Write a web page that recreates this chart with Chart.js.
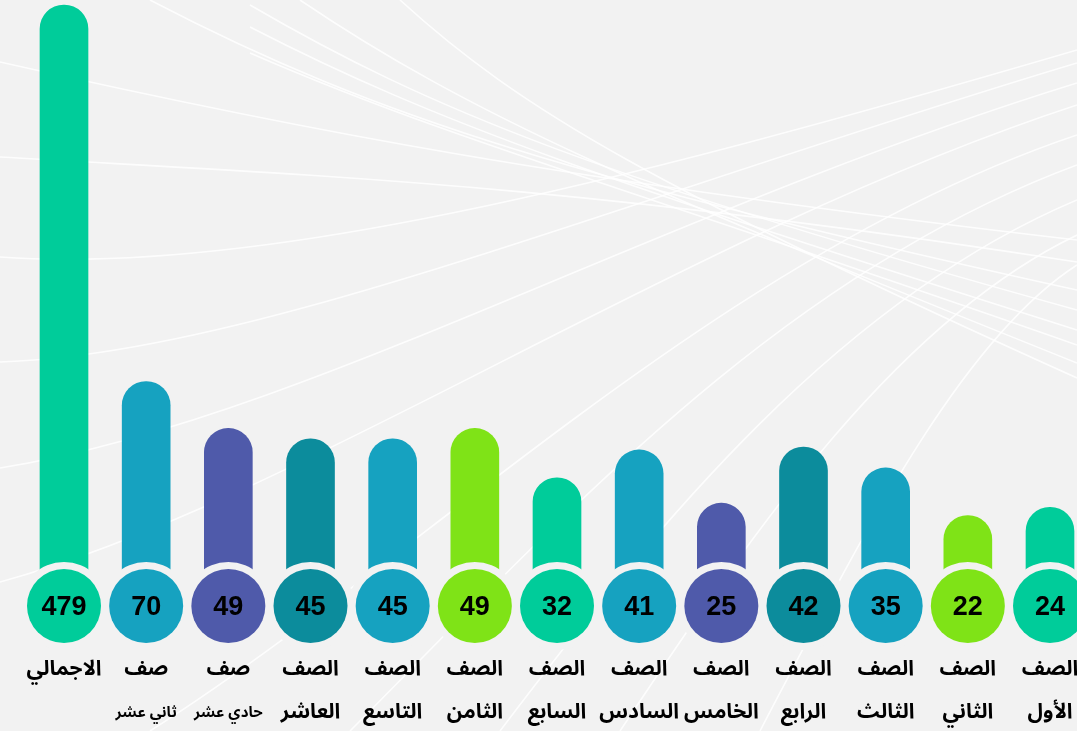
<!DOCTYPE html>
<html lang="ar">
<head>
<meta charset="utf-8">
<script src="https://cdn.jsdelivr.net/npm/chart.js@4/dist/chart.umd.min.js"></script>
<style>
  html, body { margin: 0; padding: 0; background: #f2f2f2; }
  #wrap { width: 1077px; height: 731px; position: relative; }
</style>
</head>
<body>
<div id="wrap"><canvas id="grades-chart"></canvas></div>
<script>
// data, first grade first (axis is reversed so it reads right to left)
var gradeTitles = ['الصف', 'الصف', 'الصف', 'الصف', 'الصف', 'الصف', 'الصف', 'الصف', 'الصف', 'الصف', 'صف', 'صف', 'الاجمالي'];
var gradeNames = ['الأول', 'الثاني', 'الثالث', 'الرابع', 'الخامس', 'السادس', 'السابع', 'الثامن', 'التاسع', 'العاشر', 'حادي عشر', 'ثاني عشر', ''];
var studentCounts = [24, 22, 35, 42, 25, 41, 32, 49, 45, 45, 49, 70, 479];

var green = '#00cc9a';
var blue = '#16a2c0';
var indigo = '#4f5aaa';
var teal = '#0c8c9c';
var lime = '#7fe317';
var barColors = [green, lime, blue, teal, indigo, blue, green, lime, blue, teal, indigo, blue, green];

var bgColor = '#f2f2f2';
var arabicFont = "'Noto Sans Arabic', 'DejaVu Sans', sans-serif";
var yMin = 7;

// power scale (cube root), the bars in the original are not linear
class PowScale extends Chart.LinearScale {
    _pow(v) {
        var e = this.options.exponent || 1 / 3;
        return Math.sign(v) * Math.pow(Math.abs(v), e);
    }
    getPixelForValue(value) {
        var lo = this._pow(this.min);
        var hi = this._pow(this.max);
        return this.getPixelForDecimal((this._pow(value) - lo) / (hi - lo));
    }
    getValueForPixel(pixel) {
        var e = this.options.exponent || 1 / 3;
        var lo = this._pow(this.min);
        var hi = this._pow(this.max);
        var p = lo + this.getDecimalForPixel(pixel) * (hi - lo);
        return Math.sign(p) * Math.pow(Math.abs(p), 1 / e);
    }
}
PowScale.id = 'pow';
PowScale.defaults = {};
Chart.register(PowScale);

// Background lines
var backdrop = {
    id: 'backdrop',
    beforeDraw: function(chart) {
        var ctx = chart.ctx;
        ctx.save();
        ctx.fillStyle = bgColor;
        ctx.fillRect(0, 0, chart.width, chart.height);
        ctx.strokeStyle = 'rgba(255,255,255,0.85)';
        ctx.lineWidth = 1.6;
        var curves = [
            // falling, from top left
            [0, 62, 300, 130, 560, 180, 1077, 240],
            [0, 157, 300, 175, 560, 182, 1077, 262],
            [150, 0, 380, 120, 580, 180, 1077, 290],
            [250, 5, 430, 110, 600, 178, 1077, 310],
            [250, 27, 440, 125, 610, 182, 1077, 330],
            [250, 53, 450, 140, 620, 185, 1077, 345],
            [300, 0, 470, 115, 640, 188, 1077, 363],
            [400, 0, 520, 110, 660, 190, 1077, 378],
            // rising, from left and bottom
            [0, 257, 250, 275, 600, 190, 1077, 50],
            [0, 362, 250, 355, 620, 200, 1077, 63],
            [0, 468, 300, 420, 650, 215, 1077, 83],
            [0, 582, 300, 500, 680, 235, 1077, 105],
            [150, 731, 420, 560, 720, 255, 1077, 135],
            [350, 731, 560, 520, 780, 275, 1077, 165],
            [500, 731, 660, 520, 840, 300, 1077, 200],
            [620, 731, 760, 520, 900, 320, 1077, 235],
            [760, 731, 860, 540, 960, 340, 1077, 265]
        ];
        curves.forEach(function(c) {
            ctx.beginPath();
            ctx.moveTo(c[0], c[1]);
            ctx.bezierCurveTo(c[2], c[3], c[4], c[5], c[6], c[7]);
            ctx.stroke();
        });
        ctx.restore();
    }
};

// Circles with the numbers and the labels under them
var badges = {
    id: 'badges',
    afterDatasetsDraw: function(chart) {
        var ctx = chart.ctx;
        var xs = chart.scales.x;
        var cy = chart.chartArea.bottom;
        ctx.save();
        for (var i = 0; i < studentCounts.length; i++) {
            var x = xs.getPixelForValue(i);
            ctx.fillStyle = bgColor;
            ctx.beginPath();
            ctx.arc(x, cy, 44, 0, Math.PI * 2);
            ctx.fill();
            ctx.fillStyle = barColors[i];
            ctx.beginPath();
            ctx.arc(x, cy, 37, 0, Math.PI * 2);
            ctx.fill();

            ctx.fillStyle = '#000';
            ctx.textAlign = 'center';
            ctx.textBaseline = 'middle';
            ctx.font = "bold 27px 'Liberation Sans', Arial, sans-serif";
            ctx.fillText(String(studentCounts[i]), x, cy + 2);

            ctx.direction = 'rtl';
            ctx.font = 'bold 21px ' + arabicFont;
            ctx.fillText(gradeTitles[i], x, cy + 66);
            if (gradeNames[i]) {
                var small = gradeTitles[i] === 'صف';
                ctx.font = (small ? 'bold 15px ' : 'bold 21px ') + arabicFont;
                ctx.fillText(gradeNames[i], x, cy + 109);
            }
            ctx.direction = 'ltr';
        }
        ctx.restore();
    }
};

var gradesctx = document.getElementById('grades-chart');

var gradesChart = new Chart(gradesctx, {
    type: 'bar',
    data: {
        labels: gradeNames.map(function(n, i) { return gradeTitles[i] + ' ' + n; }),
        datasets: [{
            data: studentCounts,
            base: yMin,
            backgroundColor: barColors,
            barThickness: 48,
            borderRadius: { topLeft: 24, topRight: 24, bottomLeft: 0, bottomRight: 0 },
            borderSkipped: false,
            clip: false
        }]
    },
    options: {
        responsive: true,
        maintainAspectRatio: false,
        animation: false,
        layout: { padding: { left: 64, right: 27, top: 5, bottom: 125 } },
        plugins: {
            legend: { display: false },
            tooltip: { enabled: false }
        },
        scales: {
            x: { type: 'category', reverse: true, offset: false, display: false },
            y: { type: 'pow', exponent: 1 / 3, min: yMin, max: 479, display: false }
        }
    },
    plugins: [backdrop, badges]
});
</script>
</body>
</html>
